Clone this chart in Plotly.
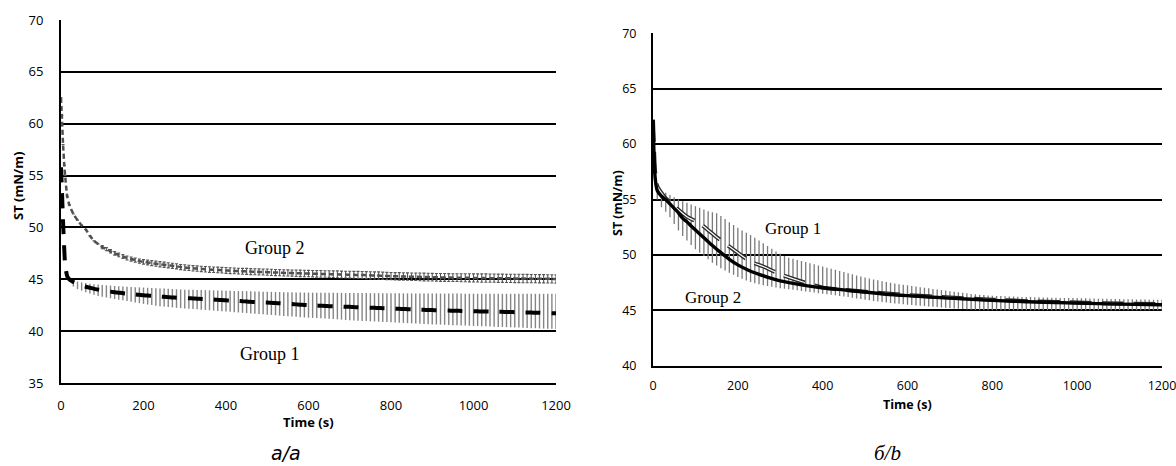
import plotly.graph_objects as go

# ---------------- DATA ----------------
# Panel a: time grid (s)
t_a = [0, 2, 5, 8, 10, 15, 20, 30, 40, 50, 60, 70, 80, 90, 100, 110, 120, 130, 140, 150,
       160, 170, 180, 190, 200, 210, 220, 230, 240, 250, 260, 270, 280, 290, 300, 310, 320, 330, 340, 350,
       360, 370, 380, 390, 400, 410, 420, 430, 440, 450, 460, 470, 480, 490, 500, 510, 520, 530, 540, 550,
       560, 570, 580, 590, 600, 610, 620, 630, 640, 650, 660, 670, 680, 690, 700, 710, 720, 730, 740, 750,
       760, 770, 780, 790, 800, 810, 820, 830, 840, 850, 860, 870, 880, 890, 900, 910, 920, 930, 940, 950,
       960, 970, 980, 990, 1000, 1010, 1020, 1030, 1040, 1050, 1060, 1070, 1080, 1090, 1100, 1110, 1120, 1130, 1140, 1150,
       1160, 1170, 1180, 1190, 1200]

a_group2 = [62.5, 60.8, 58.0, 56.0, 55.0, 53.0, 52.2, 51.3, 50.7, 50.2, 49.8, 49.2, 48.7, 48.4, 48.1, 47.9, 47.7, 47.5, 47.35, 47.2,
            47.05, 46.95, 46.85, 46.75, 46.68, 46.62, 46.56, 46.5, 46.45, 46.4, 46.35, 46.3, 46.25, 46.18, 46.14, 46.1, 46.06, 46.03, 46.0, 45.97,
            45.94, 45.92, 45.9, 45.88, 45.85, 45.83, 45.81, 45.79, 45.77, 45.76, 45.74, 45.73, 45.71, 45.7, 45.69, 45.67, 45.65, 45.64, 45.62, 45.61,
            45.6, 45.58, 45.57, 45.56, 45.55, 45.54, 45.53, 45.52, 45.51, 45.5, 45.49, 45.48, 45.46, 45.45, 45.44, 45.43, 45.42, 45.41, 45.4, 45.38,
            45.37, 45.36, 45.34, 45.32, 45.3, 45.29, 45.28, 45.27, 45.26, 45.25, 45.24, 45.23, 45.22, 45.21, 45.2, 45.19, 45.18, 45.18, 45.17, 45.16,
            45.16, 45.15, 45.15, 45.14, 45.13, 45.13, 45.12, 45.12, 45.11, 45.11, 45.1, 45.1, 45.09, 45.09, 45.08, 45.08, 45.07, 45.07, 45.06, 45.06,
            45.05, 45.05, 45.04, 45.04, 45.03]

a_group2_err = [0, 0, 0, 0, 0, 0, 0, 0, 0, 0, 0, 0, 0, 0, 0.15, 0.15, 0.16, 0.17, 0.18, 0.18,
                0.19, 0.2, 0.2, 0.2, 0.22, 0.23, 0.24, 0.25, 0.25, 0.25, 0.25, 0.25, 0.25, 0.25, 0.26, 0.26, 0.26, 0.26, 0.26, 0.27,
                0.27, 0.27, 0.27, 0.27, 0.28, 0.28, 0.28, 0.28, 0.28, 0.29, 0.29, 0.29, 0.29, 0.29, 0.3, 0.3, 0.3, 0.3, 0.3, 0.3,
                0.3, 0.31, 0.31, 0.31, 0.31, 0.31, 0.32, 0.32, 0.32, 0.32, 0.32, 0.33, 0.33, 0.33, 0.33, 0.33, 0.34, 0.34, 0.34, 0.34,
                0.34, 0.35, 0.35, 0.35, 0.35, 0.35, 0.36, 0.36, 0.36, 0.36, 0.36, 0.37, 0.37, 0.37, 0.37, 0.37, 0.38, 0.38, 0.38, 0.38,
                0.38, 0.39, 0.39, 0.39, 0.39, 0.39, 0.4, 0.4, 0.4, 0.4, 0.4, 0.4, 0.4, 0.4, 0.4, 0.4, 0.4, 0.4, 0.4, 0.4,
                0.4, 0.4, 0.4, 0.4, 0.4]

a_group1 = [55.8, 53.8, 50.5, 47.8, 46.4, 45.3, 45.0, 44.75, 44.55, 44.4, 44.28, 44.18, 44.08, 44.0, 43.93, 43.87, 43.81, 43.76, 43.71, 43.66,
            43.62, 43.58, 43.54, 43.5, 43.46, 43.43, 43.4, 43.37, 43.34, 43.31, 43.28, 43.25, 43.23, 43.21, 43.19, 43.17, 43.15, 43.13, 43.11, 43.09,
            43.07, 43.05, 43.02, 43.0, 42.97, 42.95, 42.93, 42.91, 42.88, 42.86, 42.83, 42.81, 42.79, 42.77, 42.75, 42.73, 42.71, 42.69, 42.67, 42.64,
            42.61, 42.58, 42.55, 42.53, 42.51, 42.49, 42.47, 42.45, 42.43, 42.41, 42.4, 42.38, 42.37, 42.35, 42.34, 42.32, 42.31, 42.29, 42.28, 42.26,
            42.25, 42.23, 42.21, 42.2, 42.18, 42.17, 42.15, 42.14, 42.12, 42.1, 42.09, 42.07, 42.06, 42.04, 42.03, 42.01, 42.0, 41.99, 41.98, 41.97,
            41.96, 41.95, 41.94, 41.93, 41.92, 41.91, 41.9, 41.9, 41.89, 41.88, 41.87, 41.86, 41.85, 41.84, 41.83, 41.82, 41.81, 41.8, 41.79, 41.78,
            41.77, 41.75, 41.74, 41.73, 41.72]

# Panel a: Group 1 spread (hatched band), upper and lower edges
t_a_band = [30, 40, 50, 60, 70, 80, 90, 100, 110, 120, 130, 140, 150, 160, 170, 180, 190, 200, 210, 220,
            230, 240, 250, 260, 270, 280, 290, 300, 310, 320, 330, 340, 350, 360, 370, 380, 390, 400, 410, 420,
            430, 440, 450, 460, 470, 480, 490, 500, 510, 520, 530, 540, 550, 560, 570, 580, 590, 600, 610, 620,
            630, 640, 650, 660, 670, 680, 690, 700, 710, 720, 730, 740, 750, 760, 770, 780, 790, 800, 810, 820,
            830, 840, 850, 860, 870, 880, 890, 900, 910, 920, 930, 940, 950, 960, 970, 980, 990, 1000, 1010, 1020,
            1030, 1040, 1050, 1060, 1070, 1080, 1090, 1100, 1110, 1120, 1130, 1140, 1150, 1160, 1170, 1180, 1190, 1200]
a_band_upper = [44.85, 44.78, 44.7, 44.63, 44.58, 44.53, 44.49, 44.45, 44.42, 44.39, 44.36, 44.33, 44.3, 44.28, 44.26, 44.24, 44.22, 44.2, 44.18, 44.16,
                44.14, 44.12, 44.1, 44.08, 44.06, 44.04, 44.02, 44.0, 43.99, 43.98, 43.97, 43.96, 43.95, 43.94, 43.93, 43.92, 43.91, 43.9, 43.89, 43.88,
                43.87, 43.86, 43.85, 43.84, 43.83, 43.82, 43.81, 43.8, 43.79, 43.78, 43.77, 43.76, 43.75, 43.74, 43.73, 43.73, 43.72, 43.72, 43.71, 43.71,
                43.7, 43.7, 43.7, 43.69, 43.69, 43.69, 43.68, 43.68, 43.68, 43.67, 43.67, 43.67, 43.66, 43.66, 43.66, 43.66, 43.65, 43.65, 43.65, 43.65,
                43.64, 43.64, 43.64, 43.64, 43.63, 43.63, 43.63, 43.63, 43.63, 43.62, 43.62, 43.62, 43.62, 43.62, 43.62, 43.61, 43.61, 43.61, 43.61, 43.61,
                43.61, 43.61, 43.6, 43.6, 43.6, 43.6, 43.6, 43.6, 43.6, 43.6, 43.6, 43.6, 43.6, 43.6, 43.6, 43.6, 43.6, 43.6]
a_band_lower = [44.3, 44.05, 43.9, 43.75, 43.62, 43.5, 43.4, 43.32, 43.24, 43.17, 43.1, 43.03, 42.97, 42.9, 42.83, 42.76, 42.7, 42.63, 42.57, 42.51,
                42.46, 42.41, 42.37, 42.33, 42.29, 42.25, 42.22, 42.19, 42.16, 42.13, 42.1, 42.07, 42.04, 42.01, 41.98, 41.95, 41.92, 41.89, 41.86, 41.83,
                41.8, 41.77, 41.74, 41.71, 41.68, 41.65, 41.62, 41.59, 41.56, 41.53, 41.5, 41.47, 41.44, 41.41, 41.38, 41.35, 41.32, 41.3, 41.28, 41.26,
                41.24, 41.22, 41.2, 41.17, 41.14, 41.11, 41.08, 41.05, 41.03, 41.01, 40.99, 40.97, 40.95, 40.93, 40.91, 40.89, 40.87, 40.85, 40.83, 40.81,
                40.79, 40.77, 40.75, 40.73, 40.71, 40.69, 40.67, 40.65, 40.64, 40.63, 40.61, 40.6, 40.58, 40.57, 40.55, 40.54, 40.52, 40.5, 40.49, 40.47,
                40.46, 40.44, 40.43, 40.41, 40.4, 40.38, 40.37, 40.35, 40.34, 40.32, 40.31, 40.29, 40.28, 40.26, 40.25, 40.23, 40.22, 40.2]

# Panel b: Group 2 (thick solid) and Group 1 (double dashed) means
t_b_g2 = [0, 2, 5, 10, 20, 30, 40, 50, 60, 70, 80, 90, 100, 120, 140, 160, 180, 200, 225, 250,
          275, 300, 350, 400, 450, 500, 550, 600, 700, 800, 900, 1000, 1100, 1200]
b_group2 = [62.2, 59.5, 57.0, 55.8, 55.3, 55.0, 54.6, 54.2, 53.8, 53.3, 53.0, 52.6, 52.25, 51.55, 50.85, 50.2, 49.6, 49.1, 48.62, 48.25,
            47.92, 47.65, 47.3, 47.04, 46.84, 46.65, 46.45, 46.32, 46.1, 45.9, 45.75, 45.65, 45.56, 45.5]

t_b_g1 = [0, 5, 10, 20, 30, 50, 80, 110, 150, 180, 230, 260, 300, 350, 400, 450, 500, 600, 700, 800,
          900, 1000, 1100, 1200]
b_group1 = [62.2, 57.5, 56.2, 55.6, 55.1, 54.4, 53.45, 52.85, 51.6, 50.75, 49.4, 48.95, 48.25, 47.6, 47.05, 46.85, 46.68, 46.38, 46.16, 45.96,
            45.8, 45.7, 45.61, 45.55]

# Panel b: spread (hatched band), upper and lower edges
t_b_band = [10, 20, 30, 40, 50, 60, 70, 80, 90, 100, 110, 120, 130, 140, 150, 160, 170, 180, 190, 200,
            210, 220, 230, 240, 250, 260, 270, 280, 290, 300, 310, 320, 330, 340, 350, 360, 370, 380, 390, 400,
            410, 420, 430, 440, 450, 460, 470, 480, 490, 500, 510, 520, 530, 540, 550, 560, 570, 580, 590, 600,
            610, 620, 630, 640, 650, 660, 670, 680, 690, 700, 710, 720, 730, 740, 750, 760, 770, 780, 790, 800,
            810, 820, 830, 840, 850, 860, 870, 880, 890, 900, 910, 920, 930, 940, 950, 960, 970, 980, 990, 1000,
            1010, 1020, 1030, 1040, 1050, 1060, 1070, 1080, 1090, 1100, 1110, 1120, 1130, 1140, 1150, 1160, 1170, 1180, 1190, 1200]
b_band_upper = [56.0, 55.8, 55.6, 55.4, 55.2, 55.0, 54.85, 54.7, 54.55, 54.4, 54.25, 54.1, 53.95, 53.85, 53.75, 53.5, 53.25, 52.95, 52.7, 52.45,
                52.2, 52.0, 51.8, 51.55, 51.3, 51.05, 50.8, 50.55, 50.3, 50.1, 49.9, 49.75, 49.65, 49.55, 49.45, 49.35, 49.25, 49.15, 49.05, 48.95,
                48.85, 48.75, 48.65, 48.55, 48.45, 48.35, 48.25, 48.15, 48.05, 47.95, 47.87, 47.79, 47.71, 47.63, 47.56, 47.49, 47.42, 47.36, 47.3, 47.25,
                47.2, 47.14, 47.08, 47.03, 46.98, 46.93, 46.88, 46.83, 46.78, 46.73, 46.68, 46.63, 46.58, 46.53, 46.48, 46.44, 46.4, 46.37, 46.34, 46.32,
                46.3, 46.28, 46.27, 46.25, 46.24, 46.22, 46.21, 46.2, 46.19, 46.18, 46.17, 46.16, 46.15, 46.14, 46.13, 46.12, 46.12, 46.11, 46.1, 46.1,
                46.09, 46.08, 46.07, 46.06, 46.05, 46.05, 46.04, 46.03, 46.02, 46.01, 46.0, 46.0, 45.99, 45.98, 45.98, 45.97, 45.96, 45.96, 45.95, 45.95]
b_band_lower = [55.0, 54.3, 53.9, 53.4, 52.8, 52.2, 51.7, 51.3, 50.9, 50.5, 50.2, 49.9, 49.6, 49.3, 49.05, 48.8, 48.6, 48.4, 48.2, 48.0,
                47.85, 47.7, 47.55, 47.45, 47.35, 47.26, 47.19, 47.12, 47.06, 47.0, 46.95, 46.9, 46.85, 46.8, 46.75, 46.7, 46.65, 46.6, 46.55, 46.5,
                46.45, 46.4, 46.35, 46.3, 46.25, 46.19, 46.13, 46.07, 46.01, 45.95, 45.9, 45.85, 45.8, 45.75, 45.7, 45.66, 45.62, 45.58, 45.54, 45.5,
                45.47, 45.44, 45.41, 45.38, 45.35, 45.32, 45.29, 45.26, 45.23, 45.2, 45.17, 45.14, 45.11, 45.08, 45.05, 45.03, 45.01, 45.0, 45.0, 45.0,
                45.0, 45.0, 45.0, 45.0, 45.0, 45.0, 45.0, 45.0, 45.0, 45.0, 45.0, 45.0, 45.0, 45.0, 45.0, 45.0, 45.0, 45.0, 45.0, 45.0,
                45.0, 45.0, 45.0, 45.0, 45.0, 45.0, 45.0, 45.0, 45.0, 45.0, 45.0, 45.0, 45.0, 45.0, 45.0, 45.0, 45.0, 45.0, 45.0, 45.0]

x_ticks = [0, 200, 400, 600, 800, 1000, 1200]
a_y_ticks = [35, 40, 45, 50, 55, 60, 65, 70]
b_y_ticks = [40, 45, 50, 55, 60, 65, 70]

# ---------------- FIGURE ----------------
W, H = 1176, 466
TICKFONT = "Open Sans"
fig = go.Figure()

# Panel a: hatched band of Group 1
fig.add_trace(go.Scatter(
    x=t_a_band, y=a_band_lower, mode="markers", xaxis="x", yaxis="y",
    marker=dict(size=1, color="rgba(0,0,0,0)"),
    error_y=dict(type="data", symmetric=False,
                 array=[u - l for u, l in zip(a_band_upper, a_band_lower)],
                 arrayminus=[0] * len(a_band_lower),
                 color="#858585", thickness=1.4, width=0),
    showlegend=False, hoverinfo="skip"))
# Panel a: Group 1 mean (thick black dashes)
fig.add_trace(go.Scatter(
    x=t_a, y=a_group1, mode="lines", xaxis="x", yaxis="y",
    line=dict(color="black", width=4, dash="15px,11px", shape="spline", smoothing=0.6),
    showlegend=False))
# Panel a: Group 2 mean with small capped error bars
fig.add_trace(go.Scatter(
    x=t_a, y=a_group2, mode="markers", xaxis="x", yaxis="y",
    marker=dict(size=1, color="rgba(0,0,0,0)"),
    error_y=dict(type="data", array=a_group2_err, color="#555555", thickness=1.1, width=1.5),
    showlegend=False, hoverinfo="skip"))
fig.add_trace(go.Scatter(
    x=t_a, y=a_group2, mode="lines", xaxis="x", yaxis="y",
    line=dict(color="#505050", width=2.5, dash="5px,3px", shape="spline", smoothing=0.6),
    showlegend=False))

# Panel b: hatched band
fig.add_trace(go.Scatter(
    x=t_b_band, y=b_band_lower, mode="markers", xaxis="x2", yaxis="y2",
    marker=dict(size=1, color="rgba(0,0,0,0)"),
    error_y=dict(type="data", symmetric=False,
                 array=[u - l for u, l in zip(b_band_upper, b_band_lower)],
                 arrayminus=[0] * len(b_band_lower),
                 color="#7a7a7a", thickness=1.3, width=0),
    showlegend=False, hoverinfo="skip"))
# Panel b: Group 1 (double dashed line: dark outline + white core)
fig.add_trace(go.Scatter(
    x=t_b_g1, y=b_group1, mode="lines", xaxis="x2", yaxis="y2",
    line=dict(color="#2a2a2a", width=4, dash="22px,10px", shape="spline", smoothing=0.6),
    showlegend=False))
fig.add_trace(go.Scatter(
    x=t_b_g1, y=b_group1, mode="lines", xaxis="x2", yaxis="y2",
    line=dict(color="white", width=1.2, dash="22px,10px", shape="spline", smoothing=0.6),
    showlegend=False, hoverinfo="skip"))
# Panel b: Group 2 (thick solid)
fig.add_trace(go.Scatter(
    x=t_b_g2, y=b_group2, mode="lines", xaxis="x2", yaxis="y2",
    line=dict(color="black", width=3.4, shape="spline", smoothing=0.6),
    showlegend=False))

axis_common = dict(showline=True, linecolor="black", linewidth=2, ticks="",
                   zeroline=False, fixedrange=True, automargin=False,
                   ticklabeloverflow="allow")

fig.update_layout(
    template="none",
    width=W, height=H, margin=dict(l=0, r=0, t=0, b=0, autoexpand=False),
    paper_bgcolor="white", plot_bgcolor="white",
    xaxis=dict(domain=[61 / W, 556 / W], range=[0, 1200], tickvals=x_ticks,
               showgrid=False, anchor="y",
               tickfont=dict(family=TICKFONT, size=13, color="black"),
               ticklabelstandoff=9, **axis_common),
    yaxis=dict(domain=[1 - 383 / H, 1 - 20 / H], range=[35, 70], tickvals=a_y_ticks,
               showgrid=True, gridcolor="black", gridwidth=1.5, anchor="x",
               tickfont=dict(family=TICKFONT, size=13, color="black"),
               ticklabelstandoff=13, **axis_common),
    xaxis2=dict(domain=[653 / W, 1162 / W], range=[0, 1200], tickvals=x_ticks,
                showgrid=False, anchor="y2",
                tickfont=dict(family=TICKFONT, size=12.5, color="black"),
                ticklabelstandoff=7, **axis_common),
    yaxis2=dict(domain=[1 - 365.7 / H, 1 - 33.3 / H], range=[40, 70], tickvals=b_y_ticks,
                showgrid=True, gridcolor="black", gridwidth=1.5, anchor="x2",
                tickfont=dict(family=TICKFONT, size=12.5, color="black"),
                ticklabelstandoff=12, **axis_common),
)


def ann(px, py, text, font, size, angle=0, **kw):
    fig.add_annotation(x=px / W, y=1 - py / H, xref="paper", yref="paper",
                       text=text, showarrow=False, textangle=angle,
                       xanchor="center", yanchor="middle",
                       font=dict(family=font, size=size, color="black", **kw))


# axis titles
ann(18, 186, "<b>ST (mN/m)</b>", TICKFONT, 13, angle=-90)
ann(308, 422, "<b>Time (s)</b>", TICKFONT, 13)
ann(617, 203, "<b>ST (mN/m)</b>", TICKFONT, 12.5, angle=-90)
ann(907, 404, "<b>Time (s)</b>", TICKFONT, 12.5)

# group labels
ann(275, 248, "Group 2", "Liberation Serif", 18)
ann(270, 354, "Group 1", "Liberation Serif", 18)
ann(793, 228, "Group 1", "Liberation Serif", 17)
ann(713, 297, "Group 2", "Liberation Serif", 17)

# panel captions
ann(286, 453, "<i>а/a</i>", "DejaVu Sans", 19)
ann(888, 453, "<i>б/b</i>", "Liberation Serif", 21)

fig.write_html("out.html", config={"displayModeBar": False},
               post_script="document.body.style.margin='0';document.body.style.overflow='hidden';")
